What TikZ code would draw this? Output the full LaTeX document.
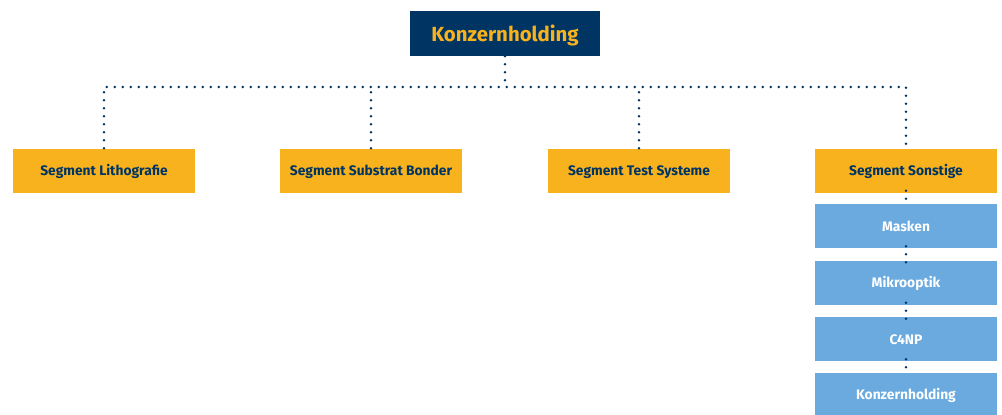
\documentclass[tikz,border=0pt]{standalone}
\usepackage{fontspec}
\setmainfont{Fira Sans}
\definecolor{navy}{HTML}{003463}
\definecolor{gold}{HTML}{F8B21D}
\definecolor{sky}{HTML}{6AAADE}
\begin{document}
\begin{tikzpicture}[x=1pt,y=-1pt,
  box/.style={minimum width=182pt,minimum height=44pt,inner sep=0pt,text height=10pt,text depth=0pt,font=\fontsize{13.8}{16}\selectfont\bfseries},
  segbox/.style={box,fill=gold,text=navy},
  subbox/.style={box,fill=sky,text=white},
  topbox/.style={minimum width=190pt,minimum height=45pt,inner sep=0pt,text height=15pt,text depth=0pt,fill=navy,text=gold,font=\fontsize{20.4}{24}\selectfont\bfseries},
  dotline/.style={draw=navy,line width=2.7pt,line cap=round,dash pattern=on 0pt off 8pt}]
\useasboundingbox (0,0) rectangle (1002,415);
\node[topbox] (top) at (505,33.5) {Konzernholding};
\node[segbox] (s1) at (104,170.5) {Segment Lithografie};
\node[segbox] (s2) at (371,170.5) {Segment Substrat Bonder};
\node[segbox] (s3) at (639,170.5) {Segment Test Systeme};
\node[segbox] (s4) at (906,170.5) {Segment Sonstige};
\node[subbox] (m1) at (906,226) {Masken};
\node[subbox] (m2) at (906,282.5) {Mikrooptik};
\node[subbox] (m3) at (906,339) {C4NP};
\node[subbox,minimum height=43pt] (m4) at (906,394.5) {Konzernholding};
\coordinate (bus) at (505,87);
\path[dotline] (top.south) -- (bus);
\path[dotline] (s1.north) -- (s1.north |- bus) -- (s4.north |- bus) -- (s4.north);
\path[dotline] (s2.north) -- (s2.north |- bus);
\path[dotline] (s3.north) -- (s3.north |- bus);
\path[dotline] ([yshift=2pt]s4.south) -- ([yshift=-2pt]m1.north);
\path[dotline] ([yshift=2pt]m1.south) -- ([yshift=-2pt]m2.north);
\path[dotline] ([yshift=2pt]m2.south) -- ([yshift=-2pt]m3.north);
\path[dotline] ([yshift=2pt]m3.south) -- ([yshift=-2pt]m4.north);
\end{tikzpicture}
\end{document}
